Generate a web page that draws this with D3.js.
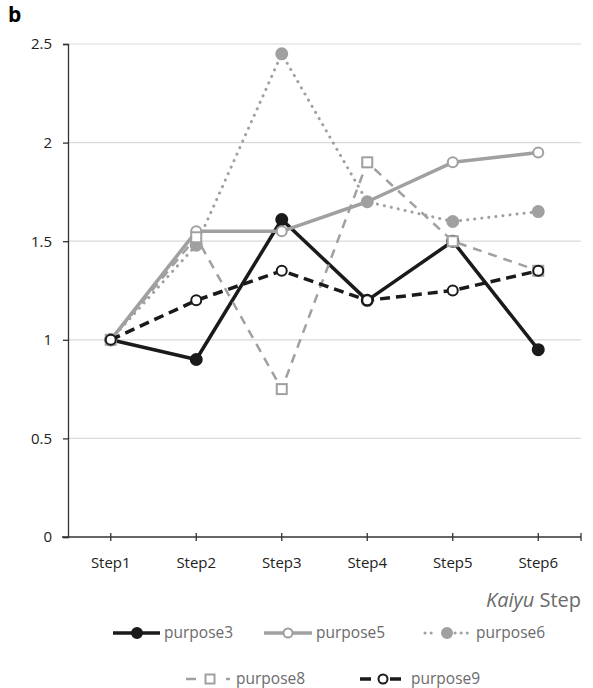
<!DOCTYPE html>
<html>
<head>
<meta charset="utf-8">
<script src="https://cdnjs.cloudflare.com/ajax/libs/d3/7.8.5/d3.min.js"></script>
<style>
  body { margin: 0; background: #fff; }
  text { font-family: "Open Sans", "Liberation Sans", sans-serif; }
</style>
</head>
<body>
<svg id="chart"></svg>
<script>
var steps = ["Step1", "Step2", "Step3", "Step4", "Step5", "Step6"];
var yTicks = [0, 0.5, 1, 1.5, 2, 2.5];
var purpose3 = [1, 0.9, 1.61, 1.2, 1.5, 0.95];
var purpose5 = [1, 1.55, 1.55, 1.7, 1.9, 1.95];
var purpose6 = [1, 1.48, 2.45, 1.7, 1.6, 1.65];
var purpose8 = [1, 1.52, 0.75, 1.9, 1.5, 1.35];
var purpose9 = [1, 1.2, 1.35, 1.2, 1.25, 1.35];

var black = "#1a1a1a", gray = "#a0a0a0";
var series = [
  {name: "purpose3", values: purpose3, color: black, width: 3.5, dash: null, marker: "circle", fill: black,
   legend: {x: 113, y: 633, segs: [[0, 47, null]], mk: 24, tx: 51}},
  {name: "purpose5", values: purpose5, color: gray, width: 3.5, dash: null, marker: "circle", fill: "#fff",
   legend: {x: 264, y: 633, segs: [[0, 48, null]], mk: 24, tx: 52}},
  {name: "purpose6", values: purpose6, color: gray, width: 3, dash: "0.1,7", cap: "round", marker: "circle", fill: gray,
   legend: {x: 425, y: 633, segs: [[0, 12, "0.1,6"], [30, 44, "0.1,6"]], mk: 22, tx: 51}},
  {name: "purpose8", values: purpose8, color: gray, width: 2.5, dash: "9,7", marker: "square", fill: "#fff",
   legend: {x: 186, y: 679, segs: [[0, 10, null], [40, 44, null]], mk: 24, tx: 50}},
  {name: "purpose9", values: purpose9, color: black, width: 3.5, dash: "10,6", marker: "circle", fill: "#fff",
   legend: {x: 360, y: 679, segs: [[0, 11, null], [30, 41, null]], mk: 23, tx: 51}}
];

var width = 593, height = 688;
var margin = {top: 44, right: 12, bottom: 151, left: 68};
var svg = d3.select("#chart").attr("width", width).attr("height", height);

var x = d3.scaleBand().domain(steps).range([margin.left, width - margin.right]);
var y = d3.scaleLinear().domain([0, 2.5]).range([height - margin.bottom, margin.top]);
var cx = function(s) { return x(s) + x.bandwidth() / 2; };

// grid
svg.append("g").selectAll("line").data(yTicks.slice(1)).enter().append("line")
  .attr("x1", margin.left).attr("x2", width - margin.right)
  .attr("y1", function(d) { return y(d); }).attr("y2", function(d) { return y(d); })
  .attr("stroke", "#d9d9d9").attr("stroke-width", 1.2);

// y axis
var yAxis = svg.append("g").attr("transform", "translate(" + margin.left + ",0)")
  .call(d3.axisLeft(y).tickValues(yTicks).tickFormat(d3.format("")).tickSize(5).tickPadding(11));
yAxis.select(".domain").attr("stroke", "#333").attr("stroke-width", 1.3);
yAxis.selectAll(".tick line").attr("stroke", "#333").attr("stroke-width", 1.3);
yAxis.selectAll("text").attr("font-size", 15).attr("fill", "#222");

// x axis, ticks at category centres
var xAxis = svg.append("g").attr("transform", "translate(0," + y(0) + ")");
xAxis.append("line").attr("x1", margin.left - 6).attr("x2", width - margin.right)
  .attr("stroke", "#333").attr("stroke-width", 1.3);
xAxis.selectAll(".tk").data(steps).enter().append("line")
  .attr("x1", cx).attr("x2", cx).attr("y1", -4).attr("y2", 4)
  .attr("stroke", "#333").attr("stroke-width", 1.3);
xAxis.append("line").attr("x1", width - margin.right).attr("x2", width - margin.right)
  .attr("y1", -4).attr("y2", 4).attr("stroke", "#333").attr("stroke-width", 1.3);
xAxis.selectAll("text").data(steps).enter().append("text")
  .attr("x", cx).attr("y", 31).attr("text-anchor", "middle")
  .attr("font-size", 15).attr("fill", "#222").text(function(d) { return d; });

// axis title
var xt = svg.append("text").attr("x", width - margin.right).attr("y", 607)
  .attr("text-anchor", "end").attr("font-size", 20).attr("fill", "#6b6b6b");
xt.append("tspan").attr("font-style", "italic").text("Kaiyu");
xt.append("tspan").text(" Step");

svg.append("text").attr("x", 8).attr("y", 22).attr("font-size", 21)
  .attr("font-weight", "bold").attr("fill", "#000").text("b");

var line = d3.line().x(function(d, i) { return cx(steps[i]); }).y(function(d) { return y(d); });

function drawMarker(g, s, px, py, r) {
  if (s.marker === "square") {
    g.append("rect").attr("x", px - r).attr("y", py - r).attr("width", 2 * r).attr("height", 2 * r)
      .attr("fill", s.fill).attr("stroke", s.color).attr("stroke-width", 2);
  } else {
    g.append("circle").attr("cx", px).attr("cy", py).attr("r", s.fill === "#fff" ? r : r + 0.5)
      .attr("fill", s.fill).attr("stroke", s.color).attr("stroke-width", 2);
  }
}

// series drawn in order, later ones on top
series.forEach(function(s) {
  var g = svg.append("g");
  g.append("path").datum(s.values).attr("d", line)
    .attr("fill", "none").attr("stroke", s.color).attr("stroke-width", s.width)
    .attr("stroke-dasharray", s.dash).attr("stroke-linecap", s.cap || "butt")
    .attr("stroke-linejoin", "round");
  s.values.forEach(function(v, i) { drawMarker(g, s, cx(steps[i]), y(v), 5); });
});

// legend
series.forEach(function(s) {
  var L = s.legend;
  var g = svg.append("g").attr("transform", "translate(" + L.x + "," + L.y + ")");
  L.segs.forEach(function(sg) {
    g.append("line").attr("x1", sg[0]).attr("x2", sg[1]).attr("y1", 0).attr("y2", 0)
      .attr("stroke", s.color).attr("stroke-width", s.width)
      .attr("stroke-dasharray", sg[2]).attr("stroke-linecap", s.cap || "butt");
  });
  drawMarker(g, s, L.mk, 0, 4.5);
  g.append("text").attr("x", L.tx).attr("y", 5)
    .attr("font-size", 15.5).attr("fill", "#6b6b6b").text(s.name);
});
</script>
</body>
</html>
